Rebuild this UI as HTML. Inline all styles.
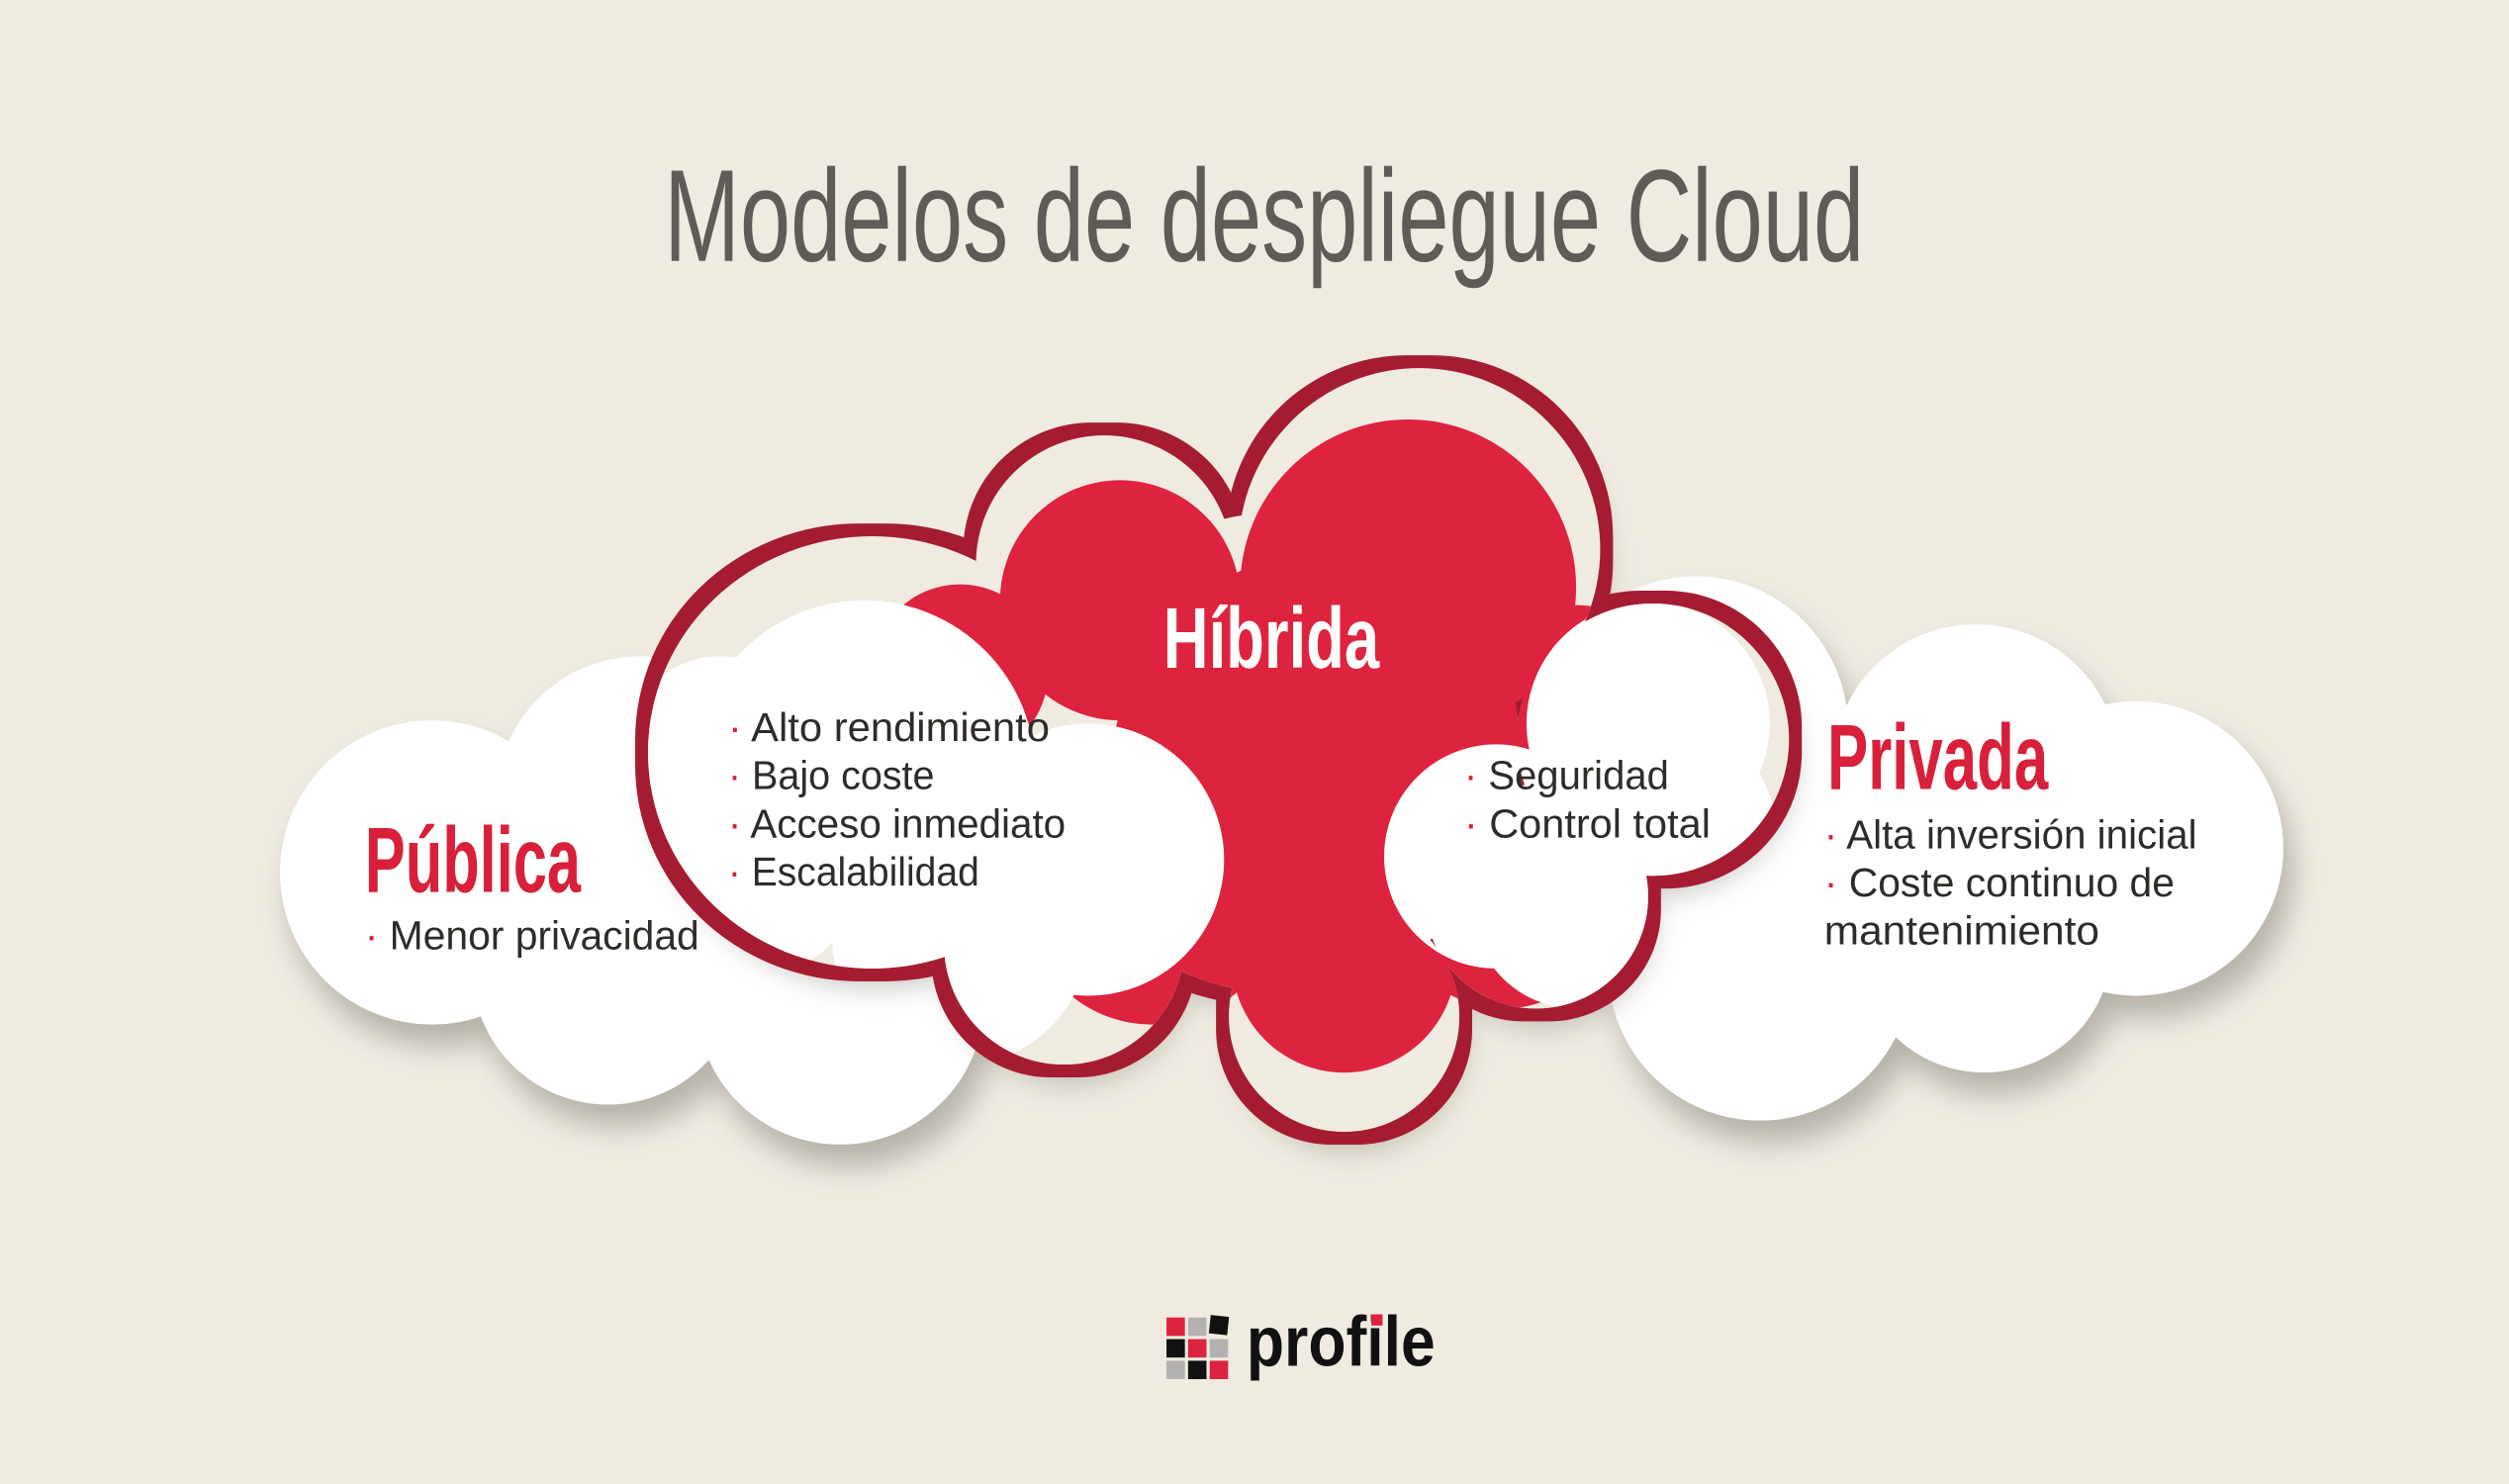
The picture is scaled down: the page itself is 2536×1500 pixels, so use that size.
<!DOCTYPE html>
<html><head><meta charset="utf-8">
<style>
html,body{margin:0;padding:0;background:#efebe1;}
svg{display:block;}
</style></head>
<body>
<svg width="2536" height="1500" viewBox="0 0 1568 927" preserveAspectRatio="none" xmlns="http://www.w3.org/2000/svg">
<defs>
<filter id="sh" x="-20%" y="-20%" width="140%" height="150%">
<feGaussianBlur stdDeviation="9"/>
</filter>
<filter id="ring" x="-10%" y="-10%" width="120%" height="120%">
<feMorphology in="SourceAlpha" operator="dilate" radius="8" result="d"/>
<feFlood flood-color="#a51c30"/>
<feComposite in2="d" operator="in" result="r"/>
<feMerge><feMergeNode in="r"/><feMergeNode in="SourceGraphic"/></feMerge>
</filter>
<g id="hyb">
<ellipse cx="545" cy="470" rx="140" ry="135"/><circle cx="690" cy="352" r="80"/><circle cx="887" cy="343" r="113"/><circle cx="1033" cy="462" r="85"/><circle cx="840" cy="635" r="72"/><circle cx="665" cy="590" r="75"/><circle cx="960" cy="560" r="70"/><circle cx="800" cy="470" r="150"/>
</g>
<clipPath id="hc">
<ellipse cx="545" cy="470" rx="140" ry="135"/><circle cx="690" cy="352" r="80"/><circle cx="887" cy="343" r="113"/><circle cx="1033" cy="462" r="85"/><circle cx="840" cy="635" r="72"/><circle cx="665" cy="590" r="75"/><circle cx="960" cy="560" r="70"/><circle cx="800" cy="470" r="150"/>
</clipPath>
</defs>
<rect width="1568" height="927" fill="#efebe1"/>

<text x="415" y="163" font-family="Liberation Sans, sans-serif" font-size="82" fill="#5f5b57" textLength="750" lengthAdjust="spacingAndGlyphs">Modelos de despliegue Cloud</text>

<g fill="#8a857c" opacity="0.55" filter="url(#sh)" transform="translate(6,14)">
<circle cx="270" cy="545" r="95"/><circle cx="400" cy="500" r="90"/><circle cx="380" cy="605" r="85"/><circle cx="525" cy="625" r="90"/>
<circle cx="1060" cy="455" r="95"/><circle cx="1235" cy="480" r="90"/><circle cx="1335" cy="530" r="92"/><circle cx="1240" cy="590" r="80"/><circle cx="1100" cy="605" r="95"/>
</g>
<g fill="#ffffff">
<circle cx="270" cy="545" r="95"/><circle cx="400" cy="500" r="90"/><circle cx="380" cy="605" r="85"/><circle cx="525" cy="625" r="90"/><circle cx="460" cy="560" r="90"/>
<circle cx="1060" cy="455" r="95"/><circle cx="1235" cy="480" r="90"/><circle cx="1335" cy="530" r="92"/><circle cx="1240" cy="590" r="80"/><circle cx="1100" cy="605" r="95"/><circle cx="1160" cy="530" r="90"/>
</g>

<g fill="#8a857c" opacity="0.45" filter="url(#sh)" transform="translate(4,12)"><use href="#hyb"/></g>
<g fill="#efebe1" filter="url(#ring)"><use href="#hyb"/></g>

<g clip-path="url(#hc)">
<g fill="#de233e">
<circle cx="700" cy="375" r="75"/><circle cx="880" cy="367" r="105"/><circle cx="985" cy="440" r="62"/><circle cx="840" cy="600" r="70"/><circle cx="830" cy="480" r="135"/><circle cx="600" cy="420" r="55"/><circle cx="720" cy="560" r="80"/><circle cx="940" cy="560" r="70"/>
</g>
<g fill="#ffffff">
<circle cx="540" cy="482" r="107"/><circle cx="680" cy="537" r="85"/><circle cx="470" cy="540" r="70"/><circle cx="600" cy="585" r="80"/><circle cx="450" cy="470" r="60"/>
<circle cx="1030" cy="452" r="76"/><circle cx="935" cy="535" r="70"/><circle cx="985" cy="565" r="65"/><circle cx="1040" cy="520" r="70"/>
</g>
</g>

<g font-family="Liberation Sans, sans-serif">
<text x="727" y="417" font-size="54" font-weight="bold" fill="#ffffff" textLength="135" lengthAdjust="spacingAndGlyphs">Híbrida</text>
<text x="228" y="557" font-size="58" font-weight="bold" fill="#d8203a" textLength="135" lengthAdjust="spacingAndGlyphs">Pública</text>
<text x="1142" y="493" font-size="58" font-weight="bold" fill="#d8203a" textLength="138" lengthAdjust="spacingAndGlyphs">Privada</text>
<g font-size="25" fill="#2e2b28">
<text x="455" y="463" textLength="201" lengthAdjust="spacingAndGlyphs"><tspan fill="#d8203a">·</tspan> Alto rendimiento</text>
<text x="455" y="493" textLength="129" lengthAdjust="spacingAndGlyphs"><tspan fill="#d8203a">·</tspan> Bajo coste</text>
<text x="455" y="523" textLength="211" lengthAdjust="spacingAndGlyphs"><tspan fill="#d8203a">·</tspan> Acceso inmediato</text>
<text x="455" y="553" textLength="157" lengthAdjust="spacingAndGlyphs"><tspan fill="#d8203a">·</tspan> Escalabilidad</text>
<text x="228" y="593" textLength="209" lengthAdjust="spacingAndGlyphs"><tspan fill="#d8203a">·</tspan> Menor privacidad</text>
<text x="915" y="493" textLength="128" lengthAdjust="spacingAndGlyphs"><tspan fill="#d8203a">·</tspan> Seguridad</text>
<text x="915" y="523" textLength="154" lengthAdjust="spacingAndGlyphs"><tspan fill="#d8203a">·</tspan> Control total</text>
<text x="1140" y="530" textLength="233" lengthAdjust="spacingAndGlyphs"><tspan fill="#d8203a">·</tspan> Alta inversión inicial</text>
<text x="1140" y="560" textLength="219" lengthAdjust="spacingAndGlyphs"><tspan fill="#d8203a">·</tspan> Coste continuo de</text>
<text x="1140" y="590" textLength="172" lengthAdjust="spacingAndGlyphs">mantenimiento</text>
</g>
</g>

<g>
<rect x="729" y="823" width="11.5" height="11.5" fill="#de233e"/>
<rect x="742.5" y="823" width="11.5" height="11.5" fill="#b4b2b0"/>
<rect x="756" y="822" width="11.5" height="11.5" fill="#111" transform="rotate(6 762 828)"/>
<rect x="729" y="836.5" width="11.5" height="11.5" fill="#111"/>
<rect x="742.5" y="836.5" width="11.5" height="11.5" fill="#de233e"/>
<rect x="756" y="836.5" width="11.5" height="11.5" fill="#b4b2b0"/>
<rect x="729" y="850" width="11.5" height="11.5" fill="#b4b2b0"/>
<rect x="742.5" y="850" width="11.5" height="11.5" fill="#111"/>
<rect x="756" y="850" width="11.5" height="11.5" fill="#de233e"/>
<text x="779" y="853" font-family="Liberation Sans, sans-serif" font-weight="bold" font-size="44" fill="#111" textLength="118" lengthAdjust="spacingAndGlyphs">profile</text>
<rect x="857" y="821" width="7" height="7" fill="#de233e"/>
</g>
</svg>
</body></html>
